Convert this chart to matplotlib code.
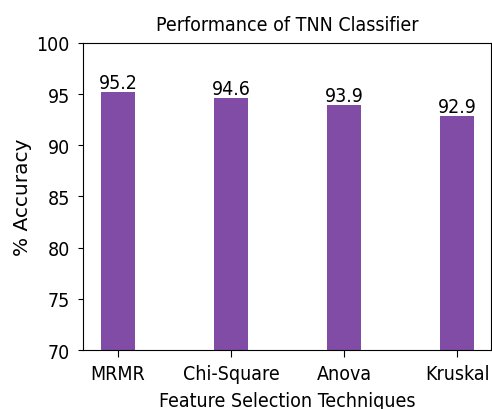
import matplotlib
matplotlib.use("Agg")
import matplotlib.pyplot as plt

techniques = ['MRMR', 'Chi-Square', 'Anova', 'Kruskal']
accuracy = [95.2, 94.6, 93.9, 92.9]
yticks = [70, 75, 80, 85, 90, 95, 100]

# reference text looks a bit tall for its width, condensed face gets close
plt.rcParams['font.family'] = ['DejaVu Sans']
plt.rcParams['font.stretch'] = 'condensed'

fs = 14

fig = plt.figure(figsize=(4.92, 4.10), dpi=100)
ax = fig.add_axes([0.1687, 0.1439, 0.8293, 0.7488])

bars = ax.bar(techniques, accuracy, width=0.3, color='#804ca6')
for b, v in zip(bars, accuracy):
    ax.text(b.get_x() + b.get_width() / 2, v, f'{v}', ha='center', va='bottom', fontsize=fs)

ax.set_ylim(70, 100)
ax.set_yticks(yticks)
ax.set_xlim(-0.31, 3.3)
ax.tick_params(labelsize=fs)
ax.tick_params(axis='x', length=5, pad=5)
ax.tick_params(axis='y', pad=6)
ax.set_title('Performance of TNN Classifier', fontsize=fs, pad=9)
ax.set_xlabel('Feature Selection Techniques', fontsize=fs, labelpad=6)
ax.set_ylabel('% Accuracy', fontsize=14.5, fontstretch='normal', labelpad=3)

fig.savefig('out.png', dpi=100)
